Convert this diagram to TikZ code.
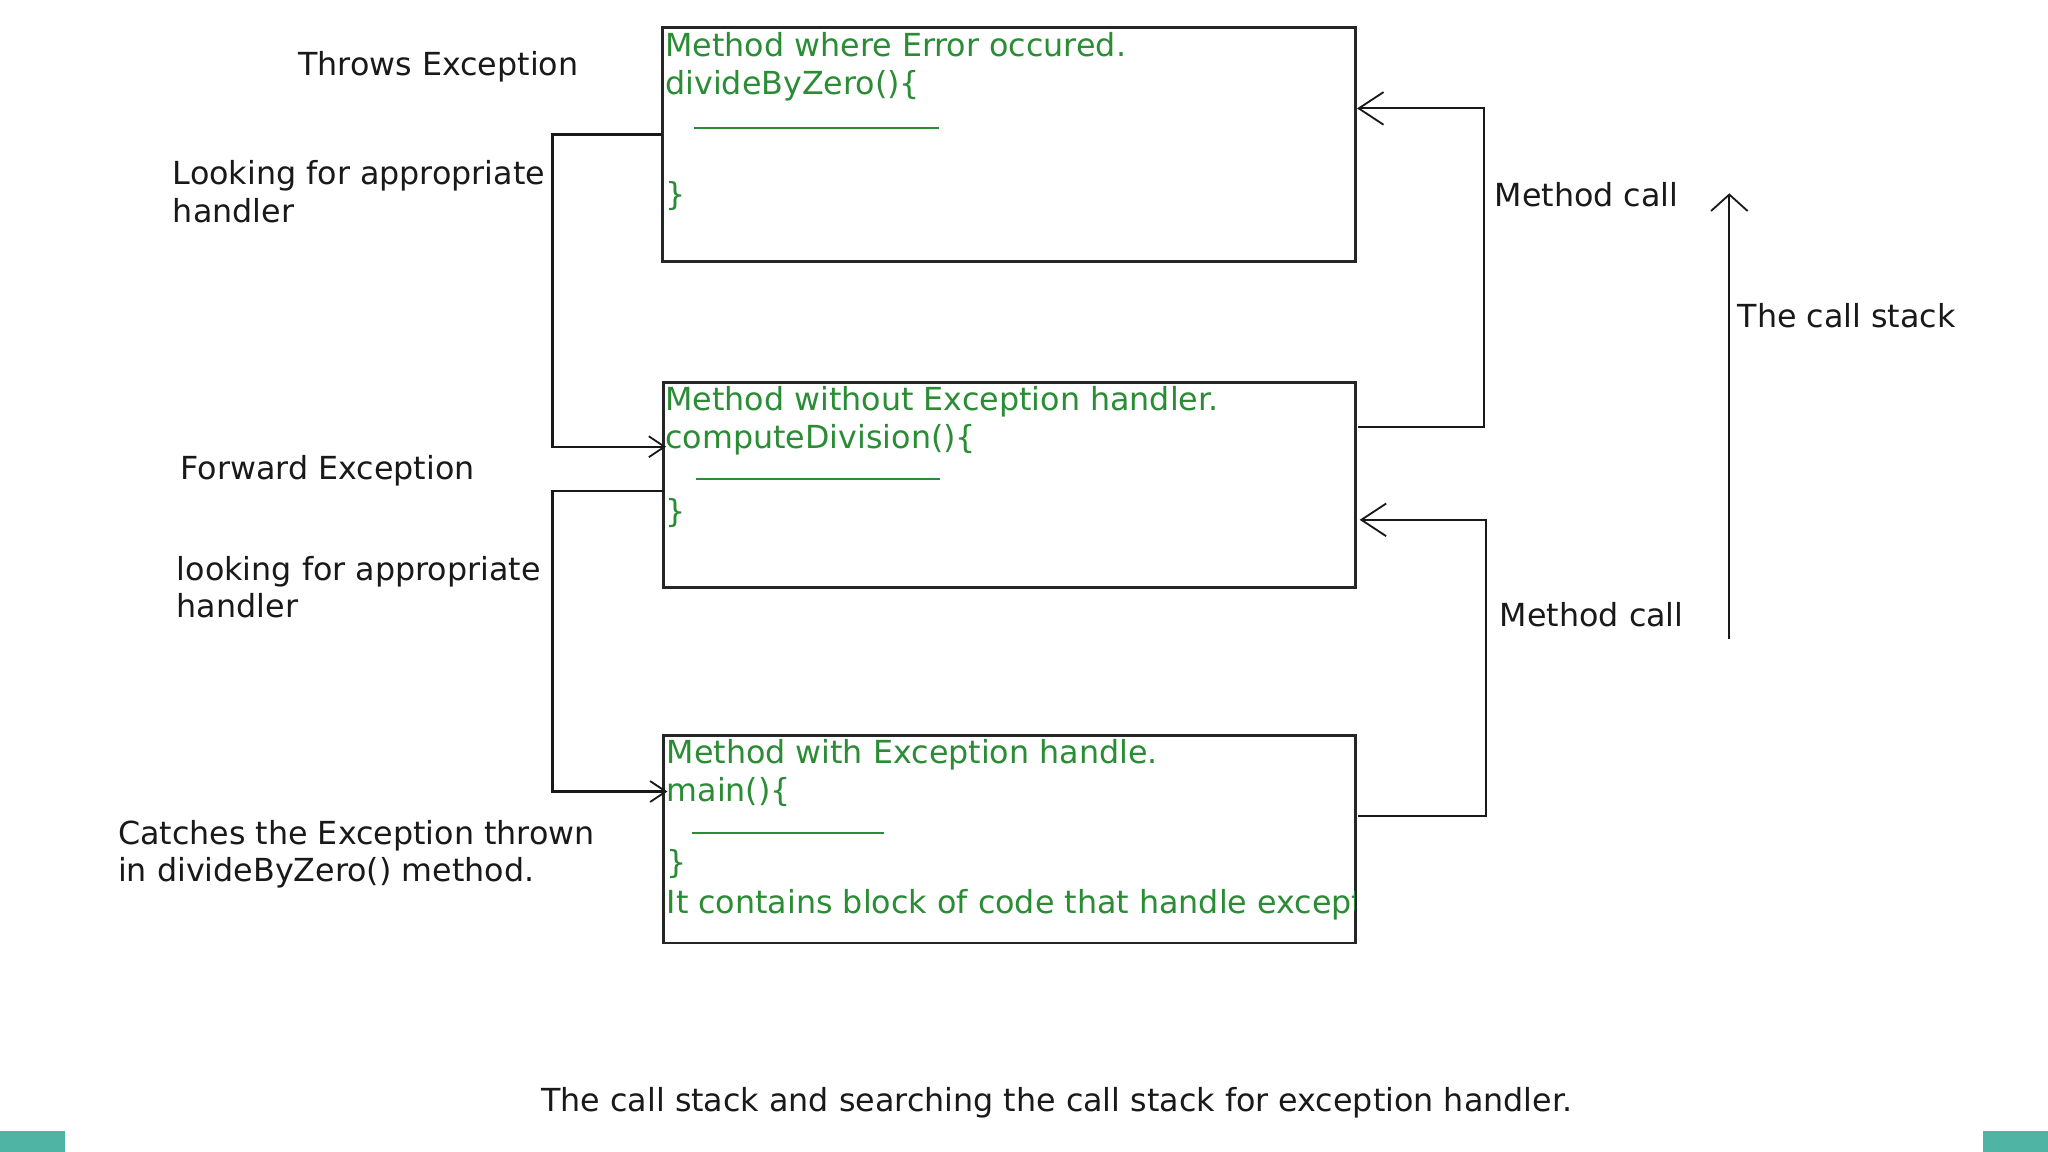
\documentclass[tikz,border=0pt]{standalone}
\usepackage{fontspec}
\setmainfont{DejaVu Sans}
\usetikzlibrary{arrows.meta}
\definecolor{codegreen}{RGB}{42,140,52}
\definecolor{tealbar}{RGB}{80,180,165}
\tikzset{
  box/.style={draw=black!85, line width=1pt, rectangle, inner sep=0pt},
  lbl/.style={anchor=base west, inner sep=0pt, align=left, text=black!90,
              font=\fontsize{12.15}{14.3}\selectfont},
  code/.style={anchor=base west, inner sep=0pt, text=codegreen,
              font=\fontsize{12.15}{14.3}\selectfont},
  conn/.style={draw=black!90, line width=0.8pt},
  smallarr/.style={conn, -{Straight Barb[length=6pt,width=8pt,line width=0.7pt]}},
  bigarr/.style={conn, -{Straight Barb[length=9.5pt,width=12.5pt,line width=0.7pt]}},
  stackarr/.style={conn, -{Straight Barb[length=6.3pt,width=14pt,line width=0.7pt]}},
  uline/.style={draw=codegreen, line width=0.8pt}
}
\begin{document}
\begin{tikzpicture}[x=0.5pt,y=-0.5pt]
\useasboundingbox (0,0) rectangle (1568,882);
\fill[white] (0,0) rectangle (1568,882);

% boxes
\node[box, minimum width=265.5pt, minimum height=89.5pt] (b1) at (772.5,110.5) {};
\node[box, minimum width=265pt, minimum height=78.5pt] (b2) at (773,371.5) {};
\node[box, minimum width=265pt, minimum height=79.5pt] (b3) at (773,642.5) {};

% box 1 content
\node[code] (t11) at (509,43.5) {Method where Error occured.};
\node[code] (t12) at (509,72.5) {divideByZero()\{};
\coordinate (u1a) at (531,98); \coordinate (u1b) at (719,98);
\draw[uline] (u1a) -- (u1b);
\node[code] (t13) at (509,157) {\}};

% box 2 content
\node[code] (t21) at (509,314.5) {Method without Exception handler.};
\node[code] (t22) at (509,343.5) {computeDivision()\{};
\coordinate (u2a) at (533,367); \coordinate (u2b) at (720,367);
\draw[uline] (u2a) -- (u2b);
\node[code] (t23) at (509,400) {\}};

% box 3 content
\node[code] (t31) at (510,584.5) {Method with Exception handle.};
\node[code] (t32) at (510,613.5) {main()\{};
\coordinate (u3a) at (530,638); \coordinate (u3b) at (677,638);
\draw[uline] (u3a) -- (u3b);
\node[code] (t33) at (510,669) {\}};
\begin{scope}
\clip (508,563) rectangle (1037,722);
\node[code] (t34) at (510,699.5) {It contains block of code that handle exception.};
\end{scope}

% left labels (base anchor = last line baseline)
\node[lbl] (l1) at (228,58) {Throws Exception};
\node[lbl] (l2) at (132,170) {Looking for appropriate\\handler};
\node[lbl] (l3) at (138,367) {Forward Exception};
\node[lbl] (l4) at (135,473) {looking for appropriate\\handler};
\node[lbl] (l5) at (90,675) {Catches the Exception thrown\\in divideByZero() method.};

% right labels
\node[lbl] (r1) at (1144,158) {Method call};
\node[lbl] (r2) at (1148,480) {Method call};
\node[lbl] (r3) at (1330,251) {The call stack};

% caption
\node[lbl] (cap) at (414,851) {The call stack and searching the call stack for exception handler.};

% left connectors
\coordinate (lA1) at (507,103); \coordinate (lA2) at (423,103);
\coordinate (lA3) at (423,342); \coordinate (lA4) at (510,342);
\draw[smallarr] (lA1) -- (lA2) -- (lA3) -- (lA4);
\coordinate (lB1) at (508,376); \coordinate (lB2) at (423,376);
\coordinate (lB3) at (423,606); \coordinate (lB4) at (511,606);
\draw[smallarr] (lB1) -- (lB2) -- (lB3) -- (lB4);

% right connectors
\coordinate (rA1) at (1040,327); \coordinate (rA2) at (1136,327);
\coordinate (rA3) at (1136,83); \coordinate (rA4) at (1039,83);
\draw[bigarr] (rA1) -- (rA2) -- (rA3) -- (rA4);
\coordinate (rB1) at (1040,625); \coordinate (rB2) at (1138,625);
\coordinate (rB3) at (1138,398); \coordinate (rB4) at (1041,398);
\draw[bigarr] (rB1) -- (rB2) -- (rB3) -- (rB4);

% call stack arrow
\coordinate (cs0) at (1324,489); \coordinate (cs1) at (1324,148);
\draw[stackarr] (cs0) -- (cs1);

% teal bars
\fill[tealbar] (0,866) rectangle (50,882);
\fill[tealbar] (1518,866) rectangle (1568,882);
\end{tikzpicture}
\end{document}
